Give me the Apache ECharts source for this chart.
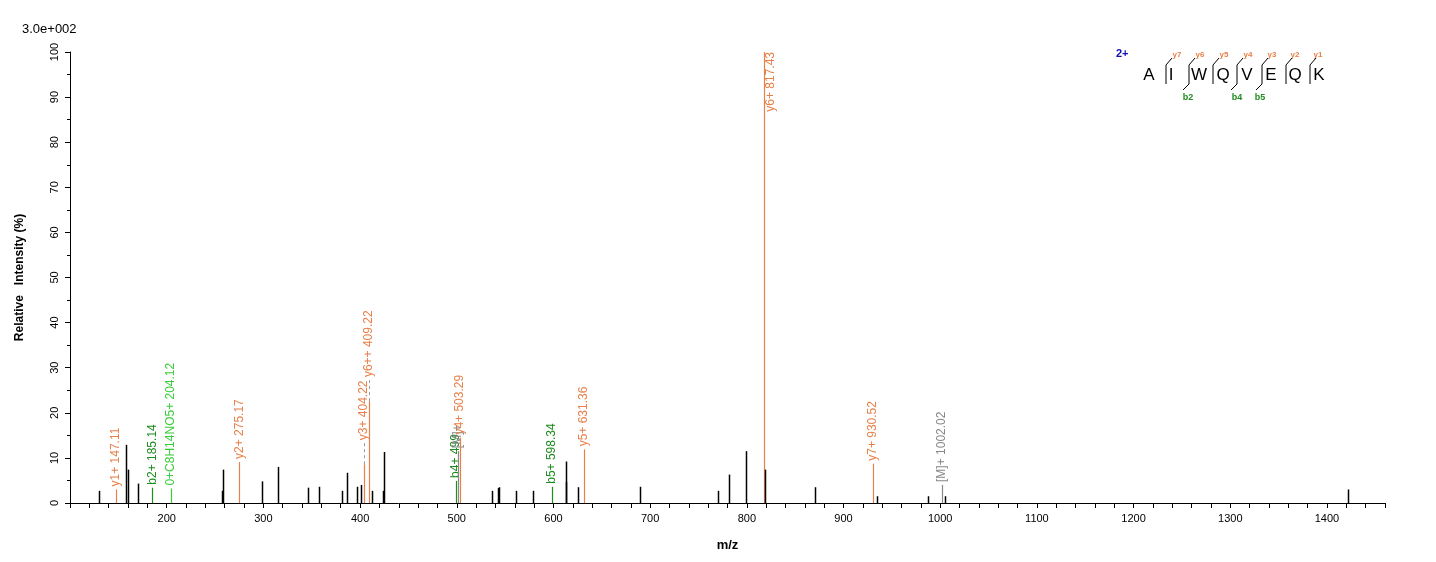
<!DOCTYPE html>
<html><head><meta charset="utf-8">
<script src="https://cdn.jsdelivr.net/npm/echarts@6/dist/echarts.min.js"></script>
<style>html,body{margin:0;padding:0;background:#fff}#c{width:1436px;height:562px}</style>
</head><body><div id="c"></div>
<script>
const mz =        [129.5,147.11,157.9,159.6,170,185.14,204.12,257,258,275.17,298.4,315,346,357.5,381,386,397,400.5,404.22,409.22,412,424,425,499.0,501.0,503.29,536.8,543,544,561,579,598.34,612.6,613.3,625,631.36,690,770,781.5,799,817.43,818.5,871,930.52,935,987,1002.02,1005,1422];
const intensity = [2.7,3.0,12.9,7.4,4.3,3.4,3.2,2.7,7.4,9.1,4.8,8.0,3.4,3.6,2.7,6.7,3.6,4.0,8.6,22.6,2.7,2.7,11.3,4.9,11.5,14.5,2.7,3.3,3.5,2.7,2.7,3.6,4.7,9.2,3.5,11.9,3.6,2.7,6.3,11.5,100,7.4,3.5,8.7,1.5,1.5,4.0,1.5,3.0];
const labels =    ['','y1+ 147.11','','','','b2+ 185.14','0+C8H14NO5+ 204.12','','','y2+ 275.17','','','','','','','','','y3+ 404.22','y6++ 409.22','','','','b4+ 499','[M]+','y4+ 503.29','','','','','','b5+ 598.34','','','','y5+ 631.36','','','','','y6+ 817.43','','','y7+ 930.52','','','[M]+ 1002.02','',''];
const kinds =     ['','y','','','','b','g','','','y','','','','','','','','','y','y','','','','b','m','y','','','','','','b','','','','y','','','','','y','','','y','','','m','',''];
const colors = {'':'#000000', y:'#E8804A', b:'#1E8C1E', g:'#3ACD3A', m:'#888888'};
const xTicks = [100,200,300,400,500,600,700,800,900,1000,1100,1200,1300,1400];
const data = mz.map((m,i)=>[m,intensity[i],labels[i],kinds[i]]);
const chart = echarts.init(document.getElementById('c'));
const F = 'Liberation Sans, Arial, sans-serif';
const g = [];
g.push({type:'text',left:22,top:23,style:{text:'3.0e+002',font:'13px '+F,fill:'#000'}});
g.push({type:'text',left:1116,top:48,style:{text:'2+',font:'bold 11px '+F,fill:'#1010B0'}});
const letters=[['A',1149],['I',1171],['W',1199],['Q',1223],['V',1247],['E',1271],['Q',1295],['K',1319]];
letters.forEach(l=>g.push({type:'text',x:l[1],y:75,style:{text:l[0],font:'17px '+F,fill:'#000',align:'center',verticalAlign:'middle'}}));
const yl=[['y7',1177],['y6',1200],['y5',1224],['y4',1248],['y3',1272],['y2',1295],['y1',1318]];
yl.forEach(l=>g.push({type:'text',x:l[1],y:55,style:{text:l[0],font:'bold 8px '+F,fill:'#E8804A',align:'center',verticalAlign:'middle'}}));
const bl=[['b2',1188],['b4',1237],['b5',1260]];
bl.forEach(l=>g.push({type:'text',x:l[1],y:98,style:{text:l[0],font:'bold 9px '+F,fill:'#1E8C1E',align:'center',verticalAlign:'middle'}}));
const cuts=[1166,1189,1213,1237,1262,1286,1310];
const bcuts=[1189,1237,1262];
cuts.forEach(x=>{
  g.push({type:'polyline',shape:{points:[[x,84],[x,65],[x+6,58]]},style:{stroke:'#000',lineWidth:1,fill:null}});
  if(bcuts.includes(x)) g.push({type:'line',shape:{x1:x,y1:84,x2:x-6,y2:90},style:{stroke:'#000',lineWidth:1}});
});
chart.setOption({
  animation:false,
  grid:{left:70,right:51,top:52,bottom:59},
  graphic:g,
  xAxis:{type:'value',min:100,max:1460,interval:100,
    name:'m/z',nameLocation:'middle',nameGap:36,nameTextStyle:{fontWeight:'bold',fontSize:13,color:'#000',fontFamily:F},
    axisLine:{lineStyle:{color:'#000'}},axisTick:{length:5,lineStyle:{color:'#000'}},
    minorTick:{show:true,splitNumber:5,length:5,lineStyle:{color:'#000'}},
    axisLabel:{color:'#000',fontSize:11,fontFamily:F,margin:10,formatter:v=>(v===100||v>1400)?'':v},splitLine:{show:false}},
  yAxis:{type:'value',min:0,max:100,interval:10,
    name:'Relative   Intensity (%)',nameLocation:'middle',nameGap:44,nameTextStyle:{fontWeight:'bold',fontSize:12,color:'#000',fontFamily:F},
    axisLine:{show:true,lineStyle:{color:'#000'}},axisTick:{show:true,length:5,lineStyle:{color:'#000'}},
    minorTick:{show:true,splitNumber:2,length:3,lineStyle:{color:'#000'}},
    axisLabel:{color:'#000',fontSize:11,fontFamily:F,rotate:90,margin:10},splitLine:{show:false}},
  series:[{type:'custom',data:data,encode:{x:0,y:1},clip:false,
    renderItem:(params,api)=>{
      const x=api.value(0),y=api.value(1);
      const idx=params.dataIndex;
      const p0=api.coord([x,0]),p1=api.coord([x,y]);
      const c=colors[kinds[idx]];
      const ch=[{type:'line',shape:{x1:Math.round(p0[0])+0.5,y1:p0[1],x2:Math.round(p0[0])+0.5,y2:p1[1]},style:{stroke:c,lineWidth:kinds[idx]?1.2:1.5}}];
      const lab=labels[idx];
      if(lab){
        let off=3;
        if(lab.startsWith('y3')||lab.startsWith('y6++')){off=24;
          ch.push({type:'line',shape:{x1:Math.round(p0[0])+0.5,y1:p1[1],x2:Math.round(p0[0])+0.5,y2:p1[1]-off},style:{stroke:'#999',lineWidth:1,lineDash:[3,3]}});}
        ch.push({type:'text',x:p1[0],y:p1[1]-off,rotation:Math.PI/2,
          style:{text:lab,font:'12px '+F,fill:c,align:'left',verticalAlign:'middle'}});
        if(lab.startsWith('y6+ 817')){ch[ch.length-1].style.align='right';ch[ch.length-1].y=p1[1];ch[ch.length-1].x=p1[0]+7;}
      }
      return {type:'group',children:ch};
    }}]
});
</script></body></html>
